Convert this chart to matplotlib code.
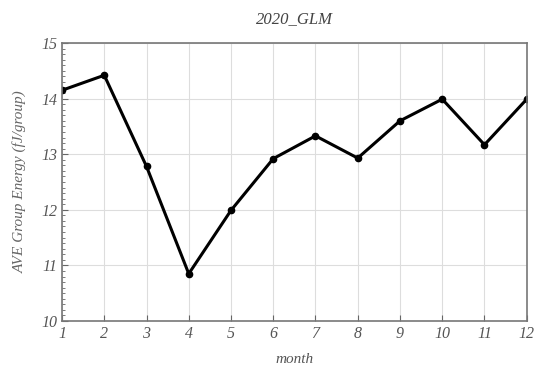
import matplotlib
matplotlib.use("Agg")
import matplotlib.pyplot as plt
from matplotlib.ticker import MultipleLocator

# monthly average group energy
months = [1, 2, 3, 4, 5, 6, 7, 8, 9, 10, 11, 12]
energy = [14.15, 14.42, 12.78, 10.85, 11.99, 12.92, 13.33, 12.93, 13.60, 13.99, 13.17, 13.99]

plt.rcParams['font.family'] = ['Liberation Serif', 'DejaVu Serif']
plt.rcParams['font.style'] = 'italic'

fig = plt.figure(figsize=(5.36, 3.67), dpi=100)
ax = fig.add_axes([0.1157, 0.1253, 0.867, 0.7575])

ax.plot(months, energy, color='black', linewidth=2.2, marker='o', markersize=4.5)

ax.set_xlim(1, 12)
ax.set_ylim(10, 15)
ax.xaxis.set_major_locator(MultipleLocator(1))
ax.yaxis.set_major_locator(MultipleLocator(1))
ax.yaxis.set_minor_locator(MultipleLocator(0.1))
ax.tick_params(which='both', direction='in', colors='#666666', labelcolor='#555555', labelsize=11.5)
ax.tick_params(which='major', length=4)
ax.tick_params(which='minor', length=2)
ax.grid(True, which='major', color='#dddddd', linewidth=0.8)

for s in ax.spines.values():
    s.set_color('#777777')
    s.set_linewidth(1.2)

ax.set_title('2020_GLM', fontsize=12, color='#444444', pad=14)
ax.set_xlabel('month', fontsize=11, color='#555555', labelpad=8)
ax.set_ylabel('AVE Group Energy (fJ/group)', fontsize=11, color='#666666', labelpad=10)

fig.savefig('out.png', dpi=100)
